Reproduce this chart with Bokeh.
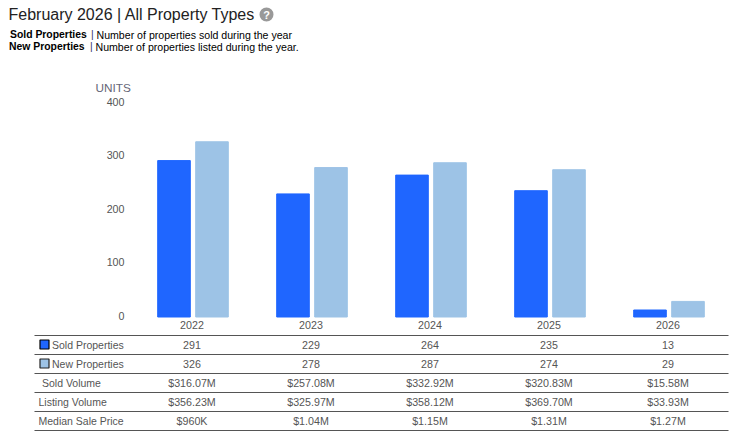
from bokeh.plotting import figure
from bokeh.models import ColumnDataSource, Range1d, Label, BoxAnnotation, FixedTicker
from bokeh.embed import file_html
from bokeh.resources import INLINE

years = ["2022", "2023", "2024", "2025", "2026"]
sold_properties = [291, 229, 264, 235, 13]
new_properties = [326, 278, 287, 274, 29]
sold_volume = ["$316.07M", "$257.08M", "$332.92M", "$320.83M", "$15.58M"]
listing_volume = ["$356.23M", "$325.97M", "$358.12M", "$369.70M", "$33.93M"]
median_price = ["$960K", "$1.04M", "$1.15M", "$1.31M", "$1.27M"]
y_ticks = [0, 100, 200, 300, 400]

SOLD = "#1f66ff"
NEW = "#9dc3e6"
TXT = "#555555"
FONT = "Liberation Sans"
W, H = 740, 436
# pixel geometry of the plotting area inside the (full-page) frame
X0, STEP = 192.5, 119.0
LABEL_X0 = 191.5
Y0, YPX = 316.5, 0.5375
TICK0, TICKPX = 315.0, 214.0 / 400

p = figure(width=W, height=H, output_backend="svg", toolbar_location=None,
           x_range=Range1d(-X0 / STEP, (W - X0) / STEP),
           y_range=Range1d(-(H - Y0) / YPX, Y0 / YPX),
           min_border=0)
p.extra_y_ranges = {"ticks": Range1d(-(H - TICK0) / TICKPX, TICK0 / TICKPX)}
p.extra_x_ranges = {"labels": Range1d(-LABEL_X0 / STEP, (W - LABEL_X0) / STEP)}
p.outline_line_color = None
p.grid.visible = False
p.background_fill_color = "white"

xs = list(range(len(years)))
p.xaxis[0].x_range_name = "labels"
p.xaxis[0].ticker = FixedTicker(ticks=xs)
p.xaxis[0].major_label_overrides = {i: y for i, y in zip(xs, years)}
p.xaxis[0].fixed_location = 0
p.yaxis[0].y_range_name = "ticks"
p.yaxis[0].ticker = FixedTicker(ticks=y_ticks)
p.yaxis[0].fixed_location = (133 - X0) / STEP
for ax in (p.xaxis[0], p.yaxis[0]):
    ax.axis_line_color = None
    ax.major_tick_line_color = None
    ax.minor_tick_line_color = None
    ax.major_label_text_color = TXT
    ax.major_label_text_font = FONT
    ax.major_label_text_font_size = "10.7px"
p.yaxis[0].major_label_standoff = 3
p.xaxis[0].major_label_standoff = -2

bw = 32.6 / STEP
off = 19 / STEP
src = ColumnDataSource(dict(
    sold_x=[i - off for i in xs], new_x=[i + off for i in xs],
    sold=sold_properties, new=new_properties))
p.vbar(x="sold_x", top="sold", bottom=0, width=bw, color=SOLD, source=src)
p.vbar(x="new_x", top="new", bottom=0, width=bw, color=NEW, source=src)


def sy(y):
    return H - y


def text(t, x, y, size="10.5px", color=TXT, style="normal", align="left"):
    p.add_layout(Label(x=x, y=sy(y), x_units="screen", y_units="screen", text=t,
                       text_font=FONT, text_font_size=size, text_color=color,
                       text_font_style=style, text_align=align, text_baseline="middle"))


def box(l, r, t, b, fill, line=None, lw=0, radius=0):
    p.add_layout(BoxAnnotation(left=l, right=r, top=sy(t), bottom=sy(b),
                               left_units="screen", right_units="screen",
                               top_units="screen", bottom_units="screen",
                               fill_color=fill, fill_alpha=1, line_color=line, line_alpha=1,
                               line_width=lw, border_radius=radius, editable=False))


# header
text("February 2026 | All Property Types", 8, 14, size="16px", color="#222222")
box(259, 273, 7, 21, "#999999", radius=7)
text("?", 266, 14, size="11px", color="white", style="bold", align="center")
text("Sold Properties", 9.5, 34, size="10.4px", color="black", style="bold")
text("|", 90.5, 34, size="10.4px", color="#333366")
text("Number of properties sold during the year", 96, 34, size="10.6px", color="black")
text("New Properties", 8.5, 46, size="10.4px", color="black", style="bold")
text("|", 89.5, 46, size="10.4px", color="#333366")
text("Number of properties listed during the year.", 95, 46, size="10.6px", color="black")
text("UNITS", 95, 87, size="11.8px", color="#666677")

# table rules
for y in [335, 354, 373, 392, 411, 430]:
    box(34, 728, y - 0.5, y + 0.5, "#555555")

# table rows
row_names = ["Sold Properties", "New Properties", "Sold Volume", "Listing Volume", "Median Sale Price"]
row_vals = [sold_properties, new_properties, sold_volume, listing_volume, median_price]
row_x = [51.5, 51.5, 41.5, 38, 38]
row_y = [344, 363, 382, 401, 420]
for name, vals, rx, ry in zip(row_names, row_vals, row_x, row_y):
    text(name, rx, ry)
    for i, v in zip(xs, vals):
        p.add_layout(Label(x=i, y=sy(ry), x_units="data", x_range_name="labels", y_units="screen", text=str(v),
                           text_font=FONT, text_font_size="10.7px", text_color=TXT,
                           text_align="center", text_baseline="middle"))

# legend swatches
box(39.5, 48.5, 339.5, 348.5, SOLD, line="black", lw=1.2)
box(39.5, 48.5, 358.5, 367.5, NEW, line="#222222", lw=1.2)

open("out.html", "w").write(file_html(p, INLINE))
